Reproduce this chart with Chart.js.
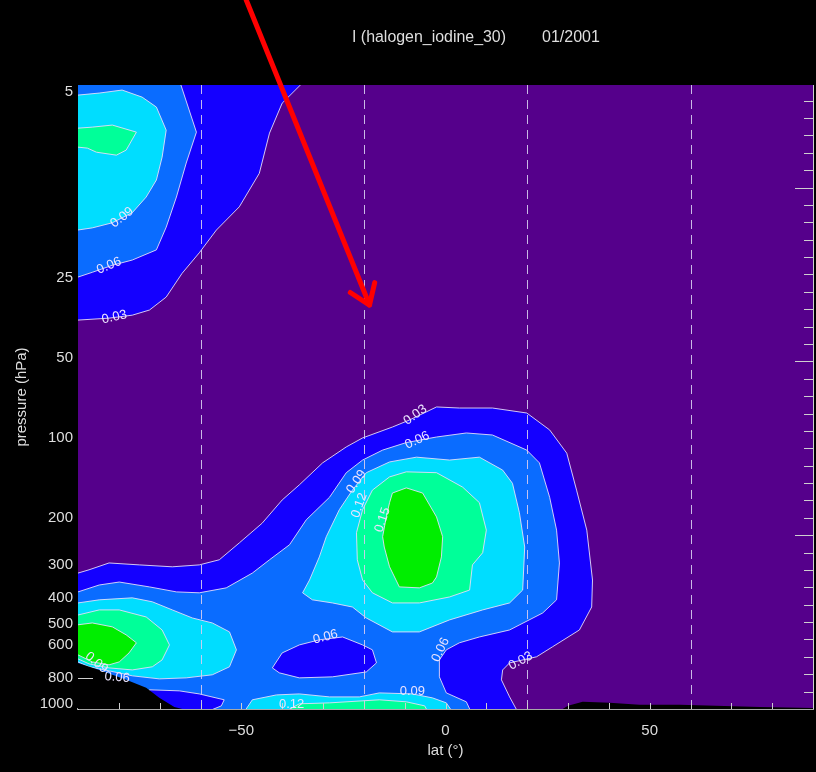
<!DOCTYPE html>
<html>
<head>
<meta charset="utf-8">
<title>I (halogen_iodine_30) 01/2001</title>
<script src="https://cdn.jsdelivr.net/npm/chart.js@4.4.1/dist/chart.umd.min.js"></script>
<style>
	html, body { margin: 0; padding: 0; background: #000; }
	canvas { display: block; }
</style>
</head>
<body>
<canvas id="zonalChart" width="816" height="772"></canvas>
<script>
/* -------------------- data (lat in degrees, pressure in hPa) -------------------- */

var TITLE_NAME = 'I (halogen_iodine_30)';
var TITLE_DATE = '01/2001';

var LEVELS    = [ 0.03, 0.06, 0.09, 0.12, 0.15 ];
var Y_TICKS   = [ 5, 25, 50, 100, 200, 300, 400, 500, 600, 800, 1000 ];
var X_LABELS  = [ -50, 0, 50 ];
var DASH_LATS = [ -60, -20, 20, 60 ];

// upper stratosphere, southern polar maximum
var STRAT_03 = [ [-90, 4.5], [-34.3, 4.5], [-40.0, 5.50], [-43.1, 7.13], [-45.6, 10.1], [-50.5, 13.5], [-56.1, 16.5], [-60.3, 20.1], [-64.5, 24.0], [-68.4, 29.5], [-72.5, 33.0], [-76.7, 34.5], [-82.4, 35.4], [-90, 36.0] ];
var STRAT_06 = [ [-90, 4.5], [-65.2, 4.5], [-61.0, 7.07], [-63.5, 9.24], [-65.9, 12.4], [-68.4, 16.1], [-70.8, 19.6], [-76.7, 21.4], [-81.6, 22.4], [-86.5, 23.8], [-90, 24.8] ];
var STRAT_09 = [ [-90, 5.13], [-84.8, 5.04], [-79.2, 4.91], [-74.3, 5.22], [-70.8, 5.69], [-68.4, 6.95], [-69.4, 8.78], [-70.8, 10.7], [-73.3, 12.4], [-76.7, 14.2], [-81.6, 15.5], [-86.5, 16.2], [-90, 16.5] ];
var STRAT_12 = [ [-90, 6.83], [-86.5, 6.77], [-81.6, 6.65], [-75.7, 7.07], [-78.2, 8.26], [-80.6, 8.63], [-85.5, 8.41], [-87.7, 8.12], [-90, 8.05] ];

// troposphere, outer contours
var TROP_03 = [ [-90, 322], [-87.3, 313], [-82.4, 295], [-75.0, 300], [-66.9, 305], [-60.3, 300], [-55.4, 287], [-50.5, 248], [-44.9, 209], [-40.0, 171], [-35.8, 150], [-30.1, 124], [-24.3, 108], [-20.3, 99.9], [-13.0, 90.9], [-8.8, 85.5], [-2.2, 76.4], [3.4, 77.1], [11.5, 77.1], [19.9, 80.5], [25.5, 93.2], [29.7, 114], [32.1, 157], [34.6, 222], [36.0, 342], [35.8, 432], [32.8, 527], [26.2, 610], [22.3, 665], [15.7, 701], [14.0, 745], [13.7, 812], [15.7, 941], [18.1, 1100], [-90, 1100] ];
var TROP_06 = [ [-90, 379], [-84.8, 357], [-79.9, 348], [-72.5, 363], [-65.9, 379], [-60.3, 382], [-53.7, 366], [-47.3, 322], [-43.1, 287], [-38.2, 252], [-34.1, 203], [-28.4, 167], [-24.3, 135], [-20.3, 121], [-15.4, 111], [-9.6, 104], [-2.2, 99.1], [5.1, 95.7], [11.5, 97.4], [19.9, 111], [23.0, 124], [25.5, 167], [27.2, 222], [27.9, 295], [27.2, 406], [23.8, 455], [15.7, 527], [8.3, 560], [3.4, 589], [0.2, 626], [-1.5, 683], [-1.5, 791], [0.2, 909], [5.1, 982], [6.6, 1100], [-90, 1100] ];

// minima below 0.06 inside the troposphere
var LOW_MID    = [ [-42.4, 732], [-40.0, 643], [-35.8, 600], [-30.9, 574], [-25.2, 560], [-20.3, 600], [-17.9, 626], [-16.9, 701], [-19.4, 758], [-27.7, 791], [-35.8, 798], [-40.7, 764] ];
var LOW_GROUND = [ [-72.5, 885], [-65.2, 893], [-60.3, 917], [-54.2, 965], [-54.9, 1017], [-60.3, 1100], [-72.5, 1100] ];

// southern polar lower troposphere maximum
var POLAR_09 = [ [-90, 417], [-84.8, 406], [-76.7, 399], [-71.8, 413], [-66.9, 443], [-62.0, 475], [-57.1, 496], [-52.9, 536], [-51.2, 626], [-52.9, 725], [-57.1, 777], [-63.5, 798], [-70.1, 805], [-76.7, 784], [-82.4, 751], [-87.3, 725], [-90, 695] ];
var POLAR_12 = [ [-90, 463], [-84.8, 443], [-79.9, 443], [-73.3, 471], [-69.4, 527], [-67.6, 600], [-69.4, 683], [-71.8, 725], [-76.7, 745], [-82.4, 732], [-87.3, 707], [-90, 677] ];
var POLAR_15 = [ [-90, 504], [-86.5, 496], [-81.6, 513], [-78.2, 550], [-75.7, 589], [-77.5, 643], [-79.9, 695], [-82.4, 713], [-86.5, 695], [-90, 654] ];

// tropical upper troposphere maximum
var TROPIC_09 = [ [-35.0, 382], [-33.3, 342], [-30.9, 280], [-29.2, 235], [-26.0, 186], [-22.8, 157], [-19.4, 135], [-13.7, 123], [-7.1, 118], [1.0, 121], [8.3, 118], [14.0, 132], [16.4, 148], [18.1, 191], [19.4, 257], [18.9, 373], [15.7, 417], [9.1, 443], [1.0, 483], [-6.4, 536], [-13.0, 536], [-19.4, 475], [-22.8, 432], [-27.7, 417], [-32.6, 406] ];
var TROPIC_12 = [ [-20.3, 342], [-21.6, 287], [-21.8, 227], [-20.3, 186], [-17.9, 157], [-13.7, 140], [-9.6, 134], [-2.2, 135], [4.2, 153], [8.3, 175], [10.0, 222], [9.1, 270], [6.6, 300], [5.9, 373], [1.0, 396], [-6.4, 417], [-13.0, 417], [-17.9, 382] ];
var TROPIC_15 = [ [-13.0, 161], [-9.6, 154], [-5.6, 161], [-2.2, 198], [-0.7, 235], [-1.0, 280], [-2.2, 333], [-3.2, 351], [-6.4, 366], [-11.3, 363], [-13.7, 305], [-15.0, 257], [-15.4, 235], [-14.5, 198], [-13.7, 175] ];

// boundary layer strip
var BL_09 = [ [-49.8, 1100], [-47.3, 965], [-41.4, 925], [-35.8, 917], [-28.4, 941], [-21.1, 941], [-16.2, 909], [-8.1, 917], [-3.2, 949], [0.2, 991], [2.2, 1100] ];
var BL_12 = [ [-40.7, 1100], [-35.8, 999], [-28.4, 991], [-16.2, 965], [-9.6, 982], [-5.1, 1017], [-3.9, 1100] ];

// below ground (no data)
var GROUND_S = [ [-90, 701], [-84.8, 745], [-78.2, 812], [-73.3, 870], [-70.1, 949], [-66.4, 1026], [-59.0, 1100], [-90, 1100] ];
var GROUND_N = [ [26.2, 1100], [30.0, 1017], [33.6, 982], [40.2, 991], [47.5, 1008], [57.4, 1008], [77.0, 1026], [90, 1035], [90, 1100] ];

// contour labels: text, lat, pressure, angle
var LABELS = [
	[ '0.09', -79.2, 14.8, -38 ],
	[ '0.06', -82.4, 22.5, -23 ],
	[ '0.03', -81.1, 35.1, -13 ],
	[ '0.03', -7.4,  81.9, -35 ],
	[ '0.06', -6.9,  102,  -25 ],
	[ '0.09', -21.8, 146,  -55 ],
	[ '0.12', -21.1, 179,  -70 ],
	[ '0.15', -15.4, 203,  -72 ],
	[ '0.06', -29.4, 560,  -15 ],
	[ '0.06', -1.2,  626,  -65 ],
	[ '0.03', 18.4,  689,  -28 ],
	[ '0.09', -8.1,  901,   0 ],
	[ '0.12', -37.7, 1008,  0 ],
	[ '0.09', -85.5, 700,  40 ],
	[ '0.06', -80.4, 795,   5 ]
];

var ARROW_TAIL = [ -48.8, 2.25 ];
var ARROW_TIP  = [ -18.6, 31.6 ];

// layers bottom to top, null level = ground
var LAYERS = [
	[ STRAT_03, 0.03 ], [ STRAT_06, 0.06 ], [ STRAT_09, 0.09 ], [ STRAT_12, 0.12 ],
	[ TROP_03, 0.03 ], [ TROP_06, 0.06 ],
	[ LOW_MID, 0.03 ], [ LOW_GROUND, 0.03 ],
	[ POLAR_09, 0.09 ], [ POLAR_12, 0.12 ], [ POLAR_15, 0.15 ],
	[ TROPIC_09, 0.09 ], [ TROPIC_12, 0.12 ], [ TROPIC_15, 0.15 ],
	[ BL_09, 0.09 ], [ BL_12, 0.12 ],
	[ GROUND_S, null ], [ GROUND_N, null ]
];

/* -------------------- styles -------------------- */

var COLORS = [ '#1400ff', '#0a6cff', '#00ddff', '#00ff99', '#00ee00' ];
var BG     = '#55008b';
var LINE   = 'rgba(228, 220, 250, 0.9)';
var TEXT   = '#dedede';
var FONT   = '"Liberation Sans", Arial, sans-serif';

// segment lying on the frame of the plot: not a contour line
function onEdge(a, b) {
	return (a[0] <= -90 && b[0] <= -90) || (a[0] >= 90 && b[0] >= 90) ||
		(a[1] <= 4.5 && b[1] <= 4.5) || (a[1] >= 1100 && b[1] >= 1100);
}

function closed(pts) {
	return pts.concat([ pts[0] ]);
}

var datasets = LAYERS.map(function (layer, i) {
	return {
		data: closed(layer[0]).map(function (p) { return { x: p[0], y: p[1] }; }),
		fill: 'shape',
		backgroundColor: layer[1] === null ? '#000000' : COLORS[LEVELS.indexOf(layer[1])],
		borderWidth: 0,
		pointRadius: 0,
		pointHoverRadius: 0,
		tension: 0,
		order: LAYERS.length - i
	};
});

function line(ctx, x0, y0, x1, y1) {
	ctx.beginPath();
	ctx.moveTo(x0, y0);
	ctx.lineTo(x1, y1);
	ctx.stroke();
}

var idlFrame = {
	id: 'idlFrame',
	beforeDatasetsDraw: function (chart) {
		var a = chart.chartArea, ctx = chart.ctx;
		ctx.save();
		ctx.fillStyle = BG;
		ctx.fillRect(a.left, a.top, a.right - a.left, a.bottom - a.top);
		ctx.restore();
	},
	// contour line of each filled level, right after its fill
	afterDatasetDraw: function (chart, args) {
		var layer = LAYERS[args.index];
		if (!layer || layer[1] === null) return;
		var pts = closed(layer[0]);
		var els = args.meta.data;
		var a = chart.chartArea, ctx = chart.ctx;
		ctx.save();
		ctx.beginPath();
		ctx.rect(a.left, a.top, a.right - a.left, a.bottom - a.top);
		ctx.clip();
		ctx.strokeStyle = LINE;
		ctx.lineWidth = 1;
		ctx.beginPath();
		for (var i = 1; i < els.length; i++) {
			if (onEdge(pts[i - 1], pts[i])) continue;
			ctx.moveTo(els[i - 1].x, els[i - 1].y);
			ctx.lineTo(els[i].x, els[i].y);
		}
		ctx.stroke();
		ctx.restore();
	},
	afterDatasetsDraw: function (chart) {
		var a = chart.chartArea, ctx = chart.ctx;
		var xs = chart.scales.x, ys = chart.scales.y, y2 = chart.scales.y2;
		ctx.save();

		// dashed latitude lines
		ctx.strokeStyle = 'rgba(215, 205, 240, 0.9)';
		ctx.lineWidth = 1;
		ctx.setLineDash([ 9, 6 ]);
		DASH_LATS.forEach(function (lat) {
			var x = Math.round(xs.getPixelForValue(lat)) + 0.5;
			line(ctx, x, a.top, x, a.bottom);
		});
		ctx.setLineDash([]);

		// inner ticks
		ctx.strokeStyle = '#cfcfcf';
		for (var v = -80; v <= 80; v += 10) {
			var x = Math.round(xs.getPixelForValue(v)) + 0.5;
			line(ctx, x, a.bottom, x, a.bottom - 6);
		}
		for (var k = 1; k < 36; k++) {
			var y = Math.round(y2.getPixelForValue(k)) + 0.5;
			line(ctx, a.right, y, a.right - (k % 10 === 0 ? 18 : 9), y);
		}
		// left ticks only show where there is no data (below ground)
		Y_TICKS.forEach(function (p) {
			if (p > GROUND_S[0][1] && p < Y_TICKS[Y_TICKS.length - 1]) {
				var y = Math.round(ys.getPixelForValue(p)) + 0.5;
				line(ctx, a.left, y, a.left + 15, y);
			}
		});
		ctx.strokeStyle = '#d0d0d0';
		line(ctx, a.right + 0.5, a.top, a.right + 0.5, a.bottom);

		// contour labels
		ctx.fillStyle = '#ece4ff';
		ctx.font = '13px ' + FONT;
		ctx.textAlign = 'center';
		ctx.textBaseline = 'middle';
		LABELS.forEach(function (l) {
			ctx.save();
			ctx.translate(xs.getPixelForValue(l[1]), ys.getPixelForValue(l[2]));
			ctx.rotate(l[3] * Math.PI / 180);
			ctx.fillText(l[0], 0, 0);
			ctx.restore();
		});
		ctx.restore();
	},
	afterDraw: function (chart) {
		var ctx = chart.ctx, xs = chart.scales.x, ys = chart.scales.y;
		ctx.save();
		ctx.fillStyle = TEXT;
		ctx.font = '16px ' + FONT;
		ctx.textBaseline = 'middle';
		ctx.textAlign = 'left';
		ctx.fillText(TITLE_NAME, 352, 38, 154);
		ctx.fillText(TITLE_DATE, 542, 38, 64);

		ctx.font = '15px ' + FONT;
		ctx.textAlign = 'center';
		ctx.fillText('lat (°)', xs.getPixelForValue(0), 751);
		ctx.translate(22, 397);
		ctx.rotate(-Math.PI / 2);
		ctx.fillText('pressure (hPa)', 0, 0);
		ctx.restore();

		// red arrow
		var x0 = xs.getPixelForValue(ARROW_TAIL[0]), y0 = ys.getPixelForValue(ARROW_TAIL[1]);
		var x1 = xs.getPixelForValue(ARROW_TIP[0]),  y1 = ys.getPixelForValue(ARROW_TIP[1]);
		var ang = Math.atan2(y1 - y0, x1 - x0);
		ctx.save();
		ctx.strokeStyle = '#ff0000';
		ctx.lineWidth = 5;
		ctx.lineCap = 'round';
		ctx.lineJoin = 'round';
		line(ctx, x0, y0, x1, y1);
		ctx.beginPath();
		ctx.moveTo(x1 - 23 * Math.cos(ang + 0.61), y1 - 23 * Math.sin(ang + 0.61));
		ctx.lineTo(x1, y1);
		ctx.lineTo(x1 - 23 * Math.cos(ang - 0.61), y1 - 23 * Math.sin(ang - 0.61));
		ctx.stroke();
		ctx.restore();
	}
};

function fmtLat(v) {
	if (X_LABELS.indexOf(v) < 0) return '';
	return v < 0 ? '\u2212' + Math.abs(v) : String(v);
}

var ctx1 = document.getElementById('zonalChart').getContext('2d');

var zonalChart = new Chart(ctx1, {
	type: 'line',
	data: { datasets: datasets },
	options: {
		responsive: false,
		devicePixelRatio: 1,
		animation: false,
		events: [],
		layout: {
			padding: { left: 0, right: 3, top: 85, bottom: 0 }
		},
		plugins: {
			legend: { display: false },
			tooltip: { enabled: false }
		},
		scales: {
			x: {
				type: 'linear',
				min: -90,
				max: 90,
				grid: { display: true, drawOnChartArea: false, drawTicks: true, tickLength: 13, color: 'rgba(0,0,0,0)' },
				border: { display: true, color: '#a8a8a8', width: 2 },
				ticks: {
					stepSize: 10,
					autoSkip: false,
					maxRotation: 0,
					padding: 0,
					color: TEXT,
					font: { family: FONT, size: 15 },
					callback: fmtLat
				},
				afterFit: function (s) { s.height = 63; }
			},
			y: {
				type: 'logarithmic',
				reverse: true,
				min: 4.7,
				max: 1045,
				grid: { display: false, drawTicks: false },
				border: { display: true, color: '#dddddd', width: 1 },
				ticks: {
					padding: 5,
					color: TEXT,
					font: { family: FONT, size: 15 },
					callback: function (v) { return String(v); }
				},
				afterBuildTicks: function (s) {
					s.ticks = Y_TICKS.map(function (v) { return { value: v }; });
				},
				afterFit: function (s) { s.width = 78; }
			},
			y2: {
				type: 'linear',
				position: 'right',
				display: false,
				min: 0,
				max: 35.9
			}
		}
	},
	plugins: [ idlFrame ]
});
</script>
</body>
</html>
